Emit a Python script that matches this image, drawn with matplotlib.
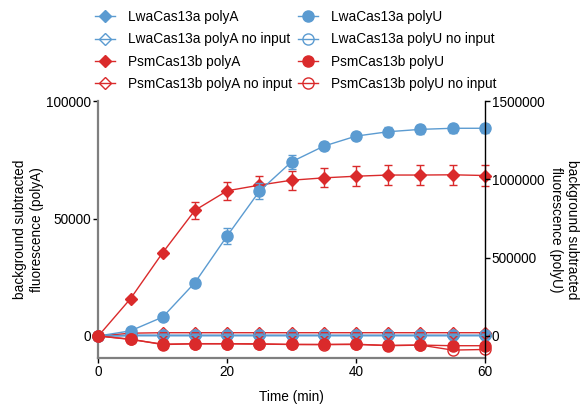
import numpy as np
import matplotlib
matplotlib.use('Agg')
import matplotlib.pyplot as plt
from matplotlib.ticker import FuncFormatter

plt.rcParams['font.family'] = ['Liberation Sans', 'DejaVu Sans']
plt.rcParams['font.size'] = 9.8

# time points (min)
time_min = [0, 5, 10, 15, 20, 25, 30, 35, 40, 45, 50, 55, 60]

# left axis (polyA)
lwa_polyA = [0, 300, 300, 300, 300, 300, 300, 300, 300, 300, 300, 300, 300]
lwa_polyA_noinput = [0, 100, 100, 100, 100, 100, 100, 100, 100, 100, 100, 100, 100]
psm_polyA = [0, 15900, 35500, 53500, 61800, 64200, 66300, 67300, 68000, 68500, 68500, 68600, 68300]
psm_polyA_err = [0, 300, 800, 3500, 3900, 3900, 4100, 4000, 4200, 4300, 4300, 4300, 4300]
psm_polyA_noinput = [0, 1200, 1400, 1400, 1400, 1400, 1400, 1400, 1400, 1400, 1400, 1400, 1400]

# right axis (polyU)
lwa_polyU = [0, 33000, 121000, 341000, 639000, 924000, 1112000, 1212000, 1276000, 1304000, 1319000, 1326000, 1326000]
lwa_polyU_err = [0, 5000, 10000, 20000, 51000, 51000, 43000, 25000, 25000, 28000, 30000, 30000, 30000]
lwa_polyU_noinput = [0, 4000, 4000, 4000, 4000, 4000, 4000, 4000, 4000, 4000, 4000, 4000, 4000]
psm_polyU = [0, -20000, -55000, -49000, -49000, -50000, -54000, -54000, -52000, -62000, -58000, -62000, -62000]
psm_polyU_noinput = [0, -22000, -52000, -50000, -50000, -52000, -54000, -55000, -54000, -60000, -58000, -90000, -86000]

blue = '#5b9bd1'
red = '#da2a2b'

fig = plt.figure(figsize=(5.87, 4.07), dpi=100)
ax = fig.add_axes([0.1675, 0.1196, 0.6585, 0.6322])
ax2 = ax.twinx()

ms = 8
dms = 6.5

# polyA on the left axis
h1 = ax.errorbar(time_min, lwa_polyA, color=blue, marker='D', ms=dms, lw=1, clip_on=False,
                 label='LwaCas13a polyA')
h2 = ax.errorbar(time_min, lwa_polyA_noinput, color=blue, marker='D', ms=dms, lw=1, mfc='none',
                 clip_on=False, label='LwaCas13a polyA no input')
h3 = ax.errorbar(time_min, psm_polyA, yerr=psm_polyA_err, color=red, marker='D', ms=dms, lw=1,
                 capsize=3, clip_on=False, label='PsmCas13b polyA')
h4 = ax.errorbar(time_min, psm_polyA_noinput, color=red, marker='D', ms=dms, lw=1, mfc='none',
                 clip_on=False, label='PsmCas13b polyA no input')

# polyU on the right axis
h5 = ax2.errorbar(time_min, lwa_polyU, yerr=lwa_polyU_err, color=blue, marker='o', ms=ms, lw=1,
                  capsize=3, clip_on=False, label='LwaCas13a polyU')
h6 = ax2.errorbar(time_min, lwa_polyU_noinput, color=blue, marker='o', ms=ms, lw=1, mfc='none',
                  clip_on=False, label='LwaCas13a polyU no input')
h8 = ax2.errorbar(time_min, psm_polyU_noinput, color=red, marker='o', ms=ms, lw=1, mfc='none',
                  clip_on=False, label='PsmCas13b polyU no input')
h7 = ax2.errorbar(time_min, psm_polyU, color=red, marker='o', ms=ms, lw=1, clip_on=False,
                  label='PsmCas13b polyU')

ax.set_xlim(0, 60)
ax.set_ylim(-9500, 100000)
ax2.set_ylim(-142500, 1500000)
ax.set_xticks([0, 20, 40, 60])
ax.set_yticks([0, 50000, 100000])
ax2.set_yticks([0, 500000, 1000000, 1500000])
plain = FuncFormatter(lambda v, p: f'{v:.0f}')
ax.yaxis.set_major_formatter(plain)
ax2.yaxis.set_major_formatter(plain)

for a in (ax, ax2):
    a.spines['top'].set_visible(False)
    a.tick_params(length=3.5, width=1, pad=1.5)
ax.spines['right'].set_visible(False)
ax2.spines['left'].set_visible(False)
ax2.spines['bottom'].set_visible(False)
ax.spines['left'].set_color('#7f7f7f')
ax.spines['left'].set_linewidth(1.6)
ax.spines['bottom'].set_color('#7f7f7f')
ax.spines['bottom'].set_linewidth(1.6)
ax2.spines['right'].set_linewidth(1)

ax.set_xlabel('Time (min)', labelpad=8)
ax.set_ylabel('background subtracted\nfluorescence (polyA)', labelpad=2)
ax2.set_ylabel('background subtracted\nfluorescence (polyU)', rotation=270, labelpad=25)

# legend without the error bar glyphs
handles = [h[0] for h in (h1, h2, h3, h4, h5, h6, h7, h8)]
labels = [h.get_label() for h in (h1, h2, h3, h4, h5, h6, h7, h8)]
fig.legend(handles, labels, ncol=2, loc='upper left', bbox_to_anchor=(0.148, 0.995),
           frameon=False, handlelength=1.5, labelspacing=0.6, columnspacing=0.45,
           handletextpad=0.9, borderaxespad=0.2)

fig.savefig('out.png', dpi=100)
